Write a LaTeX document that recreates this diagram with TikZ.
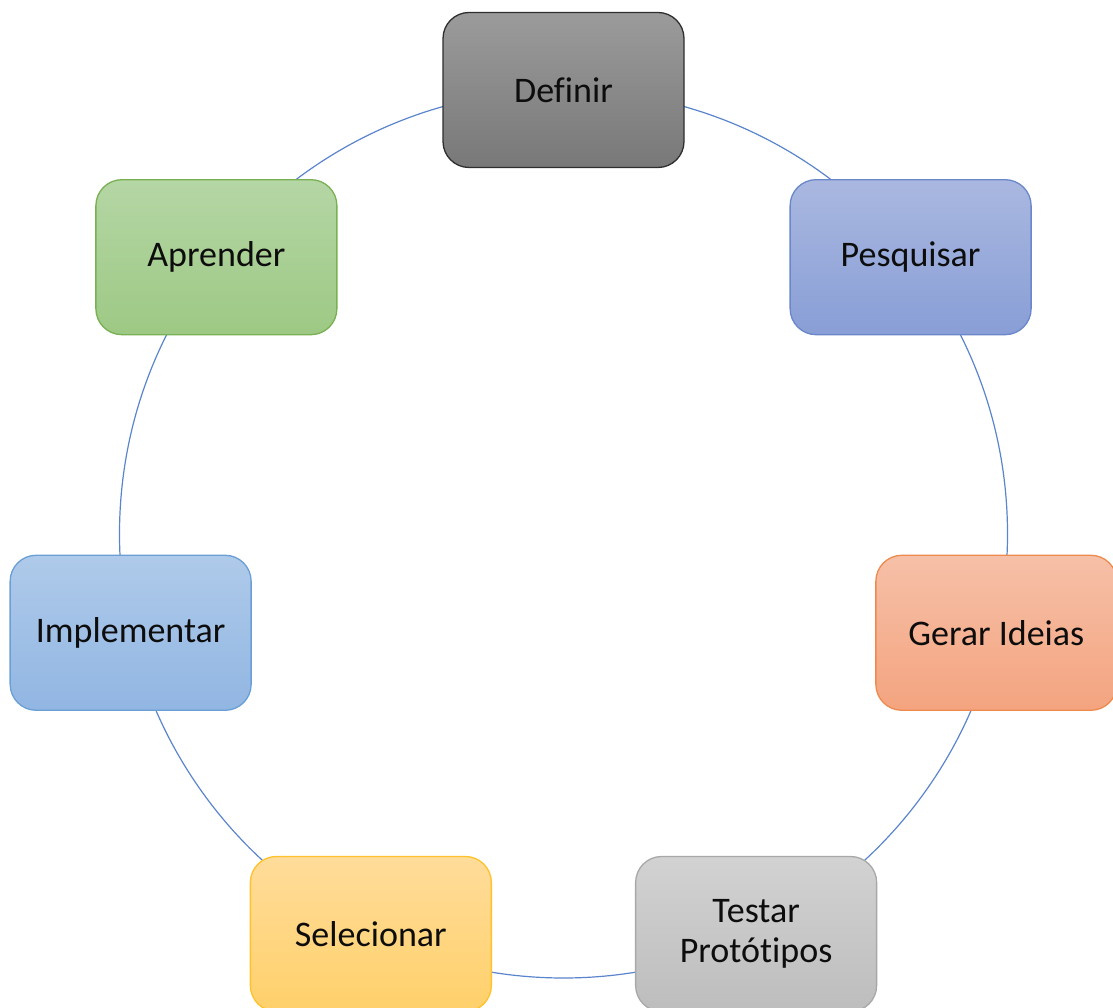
\documentclass[tikz,border=0pt]{standalone}
\usepackage{fontspec}
\setmainfont{Carlito}[Ligatures=NoCommon]
\usetikzlibrary{calc}

% stage colours: fill top, fill bottom, outline
\definecolor{defT}{HTML}{9B9B9B}\definecolor{defB}{HTML}{787878}\definecolor{defL}{HTML}{2E2E2E}
\definecolor{pesT}{HTML}{AAB8E0}\definecolor{pesB}{HTML}{889ED6}\definecolor{pesL}{HTML}{6A87C9}
\definecolor{gerT}{HTML}{F6C0A8}\definecolor{gerB}{HTML}{F4A47F}\definecolor{gerL}{HTML}{EE8A4E}
\definecolor{tesT}{HTML}{D2D2D2}\definecolor{tesB}{HTML}{BDBDBD}\definecolor{tesL}{HTML}{A8A8A8}
\definecolor{selT}{HTML}{FFDC9A}\definecolor{selB}{HTML}{FFD06A}\definecolor{selL}{HTML}{FFC22A}
\definecolor{impT}{HTML}{AFCAEA}\definecolor{impB}{HTML}{91B6E2}\definecolor{impL}{HTML}{6A9FD6}
\definecolor{apT}{HTML}{B5D6A5}\definecolor{apB}{HTML}{9DC984}\definecolor{apL}{HTML}{78B052}
\definecolor{ring}{HTML}{5A84CC}
\definecolor{ink}{HTML}{0D0D0D}

\tikzset{
  stage/.style n args={3}{
    rectangle, rounded corners=26pt, minimum width=241pt, minimum height=155pt,
    top color=#1, bottom color=#2, draw=#3, line width=1.3pt,
    font=\fontsize{36}{40}\selectfont, text=ink, align=center, inner sep=0pt
  },
  cycle/.style={draw=ring, line width=1.2pt}
}

\begin{document}
\begin{tikzpicture}[x=1pt,y=1pt]
  \useasboundingbox (0,0) rectangle (1113,1007);
  \clip (0,0) rectangle (1113,1007);
  \coordinate (C) at (563.5,473);

  % the ring behind the stages
  \draw[cycle] (C) circle[radius=444];

  \node[stage={defT}{defB}{defL}] (definir)     at ($(C)+(90:444)$)       {Definir};
  \node[stage={pesT}{pesB}{pesL}] (pesquisar)   at ($(C)+(38.571:444)$)   {Pesquisar};
  \node[stage={gerT}{gerB}{gerL}] (gerar)       at ($(C)+(-12.857:444)$)  {Gerar Ideias};
  \node[stage={tesT}{tesB}{tesL}] (testar)      at ($(C)+(-64.286:444)$)  {Testar\\Protótipos};
  \node[stage={selT}{selB}{selL}] (selecionar)  at ($(C)+(-115.714:444)$) {Selecionar};
  \node[stage={impT}{impB}{impL}] (implementar) at ($(C)+(-167.143:444)$) {Implementar};
  \node[stage={apT}{apB}{apL}]    (aprender)    at ($(C)+(141.429:444)$)  {Aprender};
\end{tikzpicture}
\end{document}
